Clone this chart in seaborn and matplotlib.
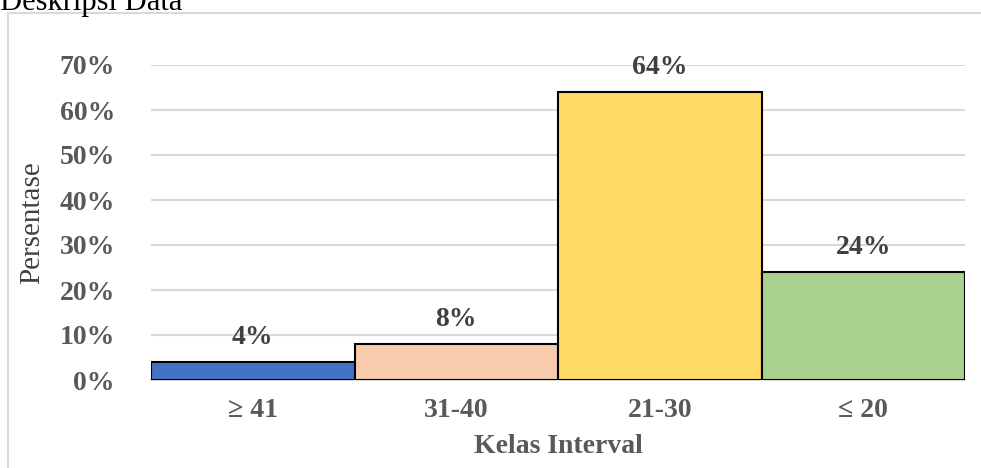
import matplotlib
matplotlib.use("Agg")
import matplotlib.pyplot as plt
import matplotlib.patches as mpatches
import seaborn as sns
import pandas as pd

# data
kelas = ["\u2265 41", "31-40", "21-30", "\u2264 20"]
persen = [4, 8, 64, 24]
warna = ["#4472C4", "#F8CBAD", "#FFD966", "#A9D18E"]
yticks = [0, 10, 20, 30, 40, 50, 60, 70]

df = pd.DataFrame({"kelas": kelas, "persen": persen})

sns.set_theme(style="white")
plt.rcParams["font.family"] = ["Liberation Serif", "DejaVu Serif"]

grey = "#595959"
fig = plt.figure(figsize=(9.81, 4.68), dpi=100)
ax = fig.add_axes([151/981, 1-380/468, (965-151)/981, (380-65)/468])

# outer frame box
fig.patches.append(mpatches.Rectangle((8/981, -0.05), 1.0, 1-13/468+0.05,
                                      transform=fig.transFigure, fill=False,
                                      edgecolor="#d9d9d9", linewidth=1.5))

sns.barplot(data=df, x="kelas", y="persen", hue="kelas", palette=warna,
            saturation=1, width=1.0, edgecolor="black", linewidth=1.5,
            legend=False, ax=ax, zorder=3)

for i, v in enumerate(persen):
    ax.text(i, v + 2.6, f"{v}%", ha="center", va="bottom", fontsize=20,
            fontweight="bold", color="#404040")

ax.set_xlim(-0.5, 3.5)
ax.set_ylim(0, 70)
ax.set_yticks(yticks)
ax.set_yticklabels([f"{t}%" for t in yticks])
ax.grid(axis="y", color="#d9d9d9", linewidth=1.5, zorder=0)
for s in ["left", "right", "top"]:
    ax.spines[s].set_visible(False)
ax.spines["bottom"].set_color("#d9d9d9")
ax.spines["bottom"].set_linewidth(1.5)
ax.tick_params(axis="y", length=0, pad=26, labelsize=20, labelcolor=grey)
ax.tick_params(axis="x", length=0, pad=13, labelsize=20, labelcolor=grey)
for lab in ax.get_xticklabels() + ax.get_yticklabels():
    lab.set_fontweight("bold")

ax.set_xlabel("Kelas Interval", fontsize=20, fontweight="bold", color=grey,
              labelpad=8)
ax.set_ylabel("Persentase", fontsize=21, color="#404040")
ax.yaxis.set_label_coords(-106/814, 0.5)

fig.text(0.0, 1-10/468, "Deskripsi Data", fontsize=22, color="black",
         ha="left", va="baseline")

fig.savefig("out.png", dpi=100)
